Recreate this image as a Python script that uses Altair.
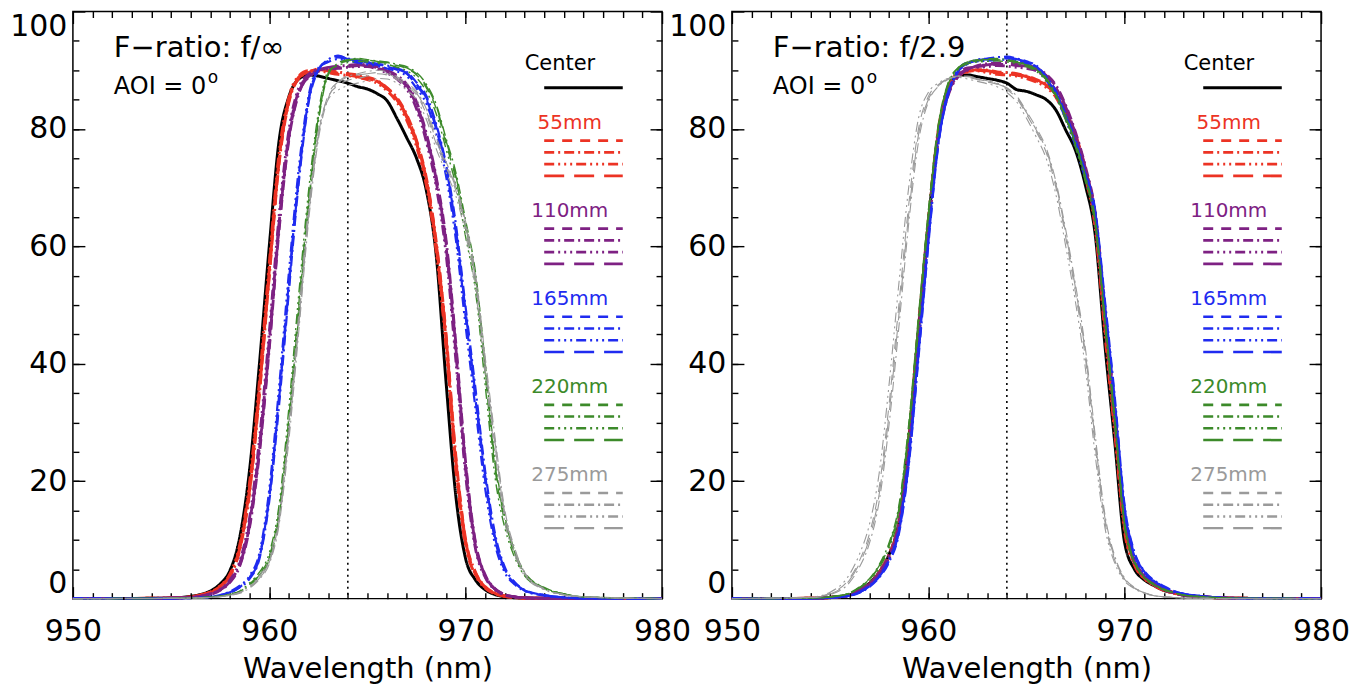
import altair as alt
import pandas as pd

# ---------------- data ----------------
WAVE = [950, 954, 955, 956, 956.5, 957, 957.5, 958, 958.5, 959, 959.5, 960, 960.5,
        961, 961.5, 962, 962.5, 963, 963.5, 964, 964.5, 965, 965.5, 966, 966.5, 967,
        967.5, 968, 968.5, 969, 969.5, 970, 970.5, 971, 971.5, 972, 972.5, 973, 974,
        975, 976, 980]

GROUPS = ["Center", "55mm", "110mm", "165mm", "220mm", "275mm"]
STYLES = ["dash", "dashdot", "dash3dot", "longdash"]

# ---- left panel: F-ratio f/inf ----
L_CENTER = [0, 0.05, 0.1, 0.4, 0.7, 1.3, 2.5, 4.8, 10.5, 22, 40, 60, 78, 85.5, 88.5, 89.2, 89.0, 88.6, 88.2, 87.8, 87.2, 86.8, 86.0, 84.8, 81.8, 78.5, 75.0, 69.5, 58.5, 37.0, 17.5, 6.8, 3.2, 1.5, 0.7, 0.3, 0.15, 0.1, 0.05, 0, 0, 0]
L_55 = [
    [0, 0.05, 0.1, 0.3, 0.6, 1.1, 2.1, 4.0, 8.8, 19, 36, 56, 75, 85, 88.8, 89.8, 90.0, 89.8, 89.5, 89.3, 89.0, 88.6, 88.0, 86.8, 85.0, 82.0, 77.5, 71.0, 60.0, 44.0, 23.0, 9.5, 4.2, 1.9, 0.9, 0.4, 0.2, 0.1, 0.05, 0, 0, 0],
    [0, 0.05, 0.1, 0.3, 0.6, 1.0, 2.0, 3.8, 8.4, 18.2, 35, 55, 74.2, 84.6, 88.6, 89.6, 90.2, 90.0, 89.7, 89.4, 89.2, 88.8, 88.2, 87.0, 85.3, 82.4, 78.0, 71.6, 60.8, 45.0, 24.2, 10.0, 4.5, 2.0, 0.9, 0.4, 0.2, 0.1, 0.05, 0, 0, 0],
    [0, 0.05, 0.1, 0.3, 0.6, 1.1, 2.2, 4.2, 9.2, 19.8, 37, 57, 75.8, 85.4, 89.0, 89.9, 89.9, 89.6, 89.3, 89.1, 88.8, 88.4, 87.8, 86.5, 84.6, 81.5, 77.0, 70.4, 59.2, 43.0, 22.0, 9.0, 4.0, 1.8, 0.8, 0.4, 0.2, 0.1, 0.05, 0, 0, 0],
    [0, 0.05, 0.1, 0.3, 0.6, 1.1, 2.1, 3.9, 8.6, 18.6, 35.5, 55.5, 74.6, 84.8, 88.7, 89.7, 90.1, 89.9, 89.6, 89.2, 88.9, 88.5, 88.1, 86.9, 85.1, 82.2, 77.8, 71.3, 60.4, 44.5, 23.6, 9.8, 4.3, 1.9, 0.9, 0.4, 0.2, 0.1, 0.05, 0, 0, 0],
]
L_110 = [
    [0, 0.05, 0.1, 0.2, 0.4, 0.8, 1.5, 3.0, 6.0, 13.0, 26.0, 44.0, 64.0, 79.0, 86.5, 89.0, 90.0, 90.3, 90.5, 90.6, 90.8, 90.8, 90.4, 89.8, 88.8, 87.2, 84.0, 78.5, 71.0, 60.0, 42.0, 22.0, 9.0, 3.8, 1.6, 0.7, 0.3, 0.15, 0.05, 0, 0, 0],
    [0, 0.05, 0.1, 0.2, 0.4, 0.7, 1.4, 2.8, 5.6, 12.2, 24.8, 42.6, 62.8, 78.2, 86.0, 88.8, 89.8, 90.4, 90.7, 90.8, 91.0, 90.9, 90.6, 90.0, 89.1, 87.6, 84.6, 79.2, 71.8, 61.2, 43.5, 23.2, 9.6, 4.0, 1.7, 0.7, 0.3, 0.15, 0.05, 0, 0, 0],
    [0, 0.05, 0.1, 0.2, 0.4, 0.8, 1.6, 3.2, 6.4, 13.8, 27.2, 45.4, 65.2, 79.8, 87.0, 89.3, 90.1, 90.2, 90.3, 90.5, 90.6, 90.6, 90.2, 89.5, 88.5, 86.8, 83.4, 77.8, 70.2, 58.8, 40.6, 21.0, 8.5, 3.6, 1.5, 0.6, 0.3, 0.15, 0.05, 0, 0, 0],
    [0, 0.05, 0.1, 0.2, 0.4, 0.8, 1.5, 2.9, 5.8, 12.6, 25.4, 43.2, 63.4, 78.6, 86.2, 88.9, 90.0, 90.5, 90.6, 90.7, 90.9, 90.7, 90.3, 89.9, 88.9, 87.4, 84.2, 78.9, 71.4, 60.6, 42.8, 22.6, 9.3, 3.9, 1.6, 0.7, 0.3, 0.15, 0.05, 0, 0, 0],
]
L_165 = [
    [0, 0.03, 0.05, 0.1, 0.15, 0.3, 0.6, 1.1, 2.0, 3.6, 7.2, 17.5, 34.6, 54.0, 72.0, 85.0, 90.2, 91.6, 92.2, 91.8, 91.5, 91.2, 90.9, 90.6, 90.1, 89.4, 87.4, 85.0, 80.0, 73.0, 62.5, 48.0, 34.0, 20.0, 10.0, 4.8, 2.6, 1.4, 0.6, 0.2, 0.05, 0],
    [0, 0.03, 0.05, 0.1, 0.15, 0.3, 0.5, 1.0, 1.9, 3.4, 6.8, 16.6, 33.0, 52.4, 70.8, 84.4, 90.0, 91.8, 92.4, 92.0, 91.7, 91.4, 91.1, 90.8, 90.3, 89.7, 87.9, 85.6, 80.8, 74.0, 63.8, 49.6, 35.8, 21.6, 11.0, 5.3, 2.8, 1.5, 0.6, 0.2, 0.05, 0],
    [0, 0.03, 0.05, 0.1, 0.2, 0.3, 0.6, 1.2, 2.2, 3.9, 7.8, 18.6, 36.0, 55.6, 73.2, 85.6, 90.4, 91.4, 91.9, 91.6, 91.3, 91.0, 90.7, 90.3, 89.8, 89.0, 86.9, 84.3, 79.2, 72.0, 61.2, 46.4, 32.4, 18.6, 9.2, 4.4, 2.4, 1.3, 0.5, 0.2, 0.05, 0],
    [0, 0.03, 0.05, 0.1, 0.15, 0.3, 0.6, 1.1, 2.0, 3.5, 7.0, 17.2, 34.0, 53.2, 71.5, 84.8, 90.1, 91.7, 92.5, 91.9, 91.6, 91.3, 91.0, 90.7, 90.2, 89.5, 87.6, 85.3, 80.4, 73.6, 63.0, 48.8, 34.8, 20.8, 10.4, 5.0, 2.7, 1.4, 0.6, 0.2, 0.05, 0],
]
L_220 = [
    [0, 0.03, 0.05, 0.1, 0.15, 0.25, 0.4, 0.7, 1.2, 2.5, 4.2, 7.2, 15.0, 31.0, 50.0, 68.0, 82.0, 89.5, 91.0, 91.6, 91.8, 91.6, 91.4, 91.2, 90.8, 90.3, 89.2, 87.0, 83.5, 77.5, 71.5, 63.0, 54.0, 38.0, 22.0, 13.0, 7.5, 4.2, 1.8, 0.8, 0.3, 0],
    [0, 0.03, 0.05, 0.1, 0.15, 0.25, 0.4, 0.7, 1.1, 2.3, 3.9, 6.7, 14.0, 29.4, 48.2, 66.6, 81.2, 89.2, 91.2, 91.8, 92.0, 91.8, 91.6, 91.4, 91.0, 90.6, 89.6, 87.6, 84.2, 78.4, 72.6, 64.4, 55.6, 40.0, 23.6, 14.0, 8.1, 4.5, 1.9, 0.8, 0.3, 0],
    [0, 0.03, 0.05, 0.1, 0.15, 0.3, 0.45, 0.8, 1.3, 2.7, 4.5, 7.8, 16.0, 32.6, 51.8, 69.4, 82.8, 89.8, 90.8, 91.3, 91.5, 91.4, 91.2, 91.0, 90.5, 89.9, 88.7, 86.4, 82.6, 76.6, 70.4, 61.6, 52.4, 36.2, 20.6, 12.0, 7.0, 3.9, 1.7, 0.7, 0.3, 0],
    [0, 0.03, 0.05, 0.1, 0.15, 0.25, 0.4, 0.7, 1.2, 2.4, 4.0, 7.0, 14.6, 30.2, 49.2, 67.4, 81.6, 89.4, 91.1, 91.7, 91.9, 91.7, 91.5, 91.3, 90.9, 90.4, 89.4, 87.3, 83.9, 78.0, 72.0, 63.6, 54.8, 39.0, 22.8, 13.5, 7.8, 4.3, 1.8, 0.8, 0.3, 0],
]
L_275 = [
    [0, 0.03, 0.05, 0.1, 0.15, 0.2, 0.35, 0.6, 1.0, 2.0, 3.6, 6.4, 13.5, 28.5, 47.0, 65.5, 79.0, 85.5, 87.4, 88.3, 88.6, 89.0, 89.4, 89.2, 88.4, 87.2, 85.8, 82.5, 77.5, 73.5, 69.5, 63.0, 54.0, 39.5, 26.0, 14.0, 8.0, 4.2, 1.6, 0.7, 0.3, 0],
    [0, 0.03, 0.05, 0.1, 0.15, 0.2, 0.3, 0.55, 0.9, 1.8, 3.3, 5.9, 12.6, 27.0, 45.4, 64.2, 78.2, 85.2, 87.8, 88.9, 89.4, 89.8, 90.0, 89.7, 88.9, 87.8, 86.4, 83.4, 78.6, 74.4, 70.4, 64.2, 55.4, 41.0, 27.4, 15.0, 8.6, 4.5, 1.7, 0.7, 0.3, 0],
    [0, 0.03, 0.05, 0.1, 0.15, 0.2, 0.35, 0.65, 1.1, 2.2, 3.9, 6.9, 14.4, 30.0, 48.6, 66.8, 79.6, 85.0, 86.6, 87.4, 87.8, 88.2, 88.6, 88.5, 87.8, 86.6, 85.0, 81.6, 76.6, 72.6, 68.6, 62.0, 52.6, 38.0, 24.6, 13.0, 7.4, 3.9, 1.5, 0.6, 0.3, 0],
    [0, 0.03, 0.05, 0.1, 0.15, 0.2, 0.35, 0.6, 1.0, 1.9, 3.5, 6.2, 13.0, 28.0, 46.4, 65.0, 78.8, 85.8, 88.0, 89.0, 89.2, 89.4, 89.6, 89.4, 88.6, 87.5, 86.1, 83.0, 78.0, 74.0, 70.0, 63.6, 54.6, 40.2, 26.6, 14.4, 8.2, 4.3, 1.6, 0.7, 0.3, 0],
]

# ---- right panel: F-ratio f/2.9 ----
R_CENTER = [0, 0.05, 0.2, 0.6, 1.5, 2.6, 4.5, 7.5, 13.0, 27.0, 46.0, 64.0, 79.0, 86.5, 89.0, 89.2, 88.9, 88.6, 88.3, 87.8, 86.7, 86.4, 85.8, 85.0, 83.2, 79.8, 76.3, 70.4, 62.0, 43.0, 26.5, 9.5, 5.0, 3.2, 2.2, 1.4, 1.0, 0.6, 0.3, 0.1, 0.05, 0]
R_55 = [
    [0, 0.05, 0.2, 0.6, 1.4, 2.5, 4.3, 7.2, 12.5, 26.0, 45.0, 63.5, 79.0, 86.8, 89.2, 89.8, 90.0, 89.8, 89.5, 89.4, 89.2, 88.8, 88.2, 87.4, 85.8, 82.5, 78.5, 72.5, 64.0, 46.0, 29.0, 12.0, 6.0, 3.5, 2.3, 1.5, 1.0, 0.6, 0.3, 0.1, 0.05, 0],
    [0, 0.05, 0.2, 0.6, 1.3, 2.4, 4.1, 6.9, 12.0, 25.0, 44.0, 62.8, 78.4, 86.5, 89.0, 89.7, 90.1, 90.0, 89.7, 89.6, 89.4, 89.0, 88.4, 87.6, 86.1, 82.9, 79.0, 73.1, 64.8, 47.2, 30.2, 12.8, 6.3, 3.6, 2.4, 1.5, 1.0, 0.6, 0.3, 0.1, 0.05, 0],
    [0, 0.05, 0.2, 0.7, 1.5, 2.7, 4.6, 7.6, 13.2, 27.2, 46.2, 64.4, 79.6, 87.0, 89.4, 89.9, 89.9, 89.6, 89.3, 89.2, 89.0, 88.6, 88.0, 87.1, 85.4, 82.0, 78.0, 71.8, 63.2, 45.0, 28.0, 11.4, 5.7, 3.4, 2.2, 1.4, 0.9, 0.6, 0.3, 0.1, 0.05, 0],
    [0, 0.05, 0.2, 0.6, 1.4, 2.5, 4.4, 7.3, 12.7, 26.4, 45.4, 63.8, 79.2, 86.9, 89.3, 89.8, 90.0, 89.9, 89.6, 89.5, 89.3, 88.9, 88.3, 87.5, 85.9, 82.6, 78.7, 72.8, 64.4, 46.6, 29.5, 12.4, 6.1, 3.5, 2.3, 1.5, 1.0, 0.6, 0.3, 0.1, 0.05, 0],
]
R_110 = [
    [0, 0.05, 0.2, 0.6, 1.4, 2.5, 4.3, 7.1, 12.4, 25.6, 44.6, 63.2, 78.6, 86.0, 89.0, 90.2, 90.6, 90.8, 91.0, 91.0, 90.8, 90.6, 90.2, 89.0, 87.0, 83.5, 78.8, 73.0, 65.0, 48.0, 31.0, 13.5, 6.5, 3.8, 2.5, 1.6, 1.0, 0.6, 0.3, 0.1, 0.05, 0],
    [0, 0.05, 0.2, 0.6, 1.3, 2.4, 4.1, 6.8, 11.9, 24.8, 43.6, 62.4, 78.0, 85.6, 88.8, 90.0, 90.8, 91.1, 91.2, 91.3, 91.0, 90.8, 90.4, 89.3, 87.4, 84.0, 79.4, 73.6, 65.8, 49.2, 32.2, 14.2, 6.8, 3.9, 2.6, 1.6, 1.0, 0.6, 0.3, 0.1, 0.05, 0],
    [0, 0.05, 0.2, 0.7, 1.5, 2.6, 4.5, 7.4, 12.9, 26.4, 45.6, 64.0, 79.2, 86.4, 89.2, 90.4, 90.5, 90.6, 90.8, 90.7, 90.5, 90.3, 89.9, 88.6, 86.5, 83.0, 78.2, 72.4, 64.2, 47.0, 30.0, 13.0, 6.2, 3.7, 2.4, 1.5, 1.0, 0.6, 0.3, 0.1, 0.05, 0],
    [0, 0.05, 0.2, 0.6, 1.4, 2.5, 4.2, 7.0, 12.2, 25.2, 44.2, 62.8, 78.3, 85.8, 88.9, 90.1, 90.7, 90.9, 91.1, 91.1, 90.9, 90.7, 90.3, 89.1, 87.2, 83.7, 79.0, 73.3, 65.4, 48.6, 31.5, 13.8, 6.6, 3.8, 2.5, 1.6, 1.0, 0.6, 0.3, 0.1, 0.05, 0],
]
R_165 = [
    [0, 0.03, 0.15, 0.5, 1.1, 2.1, 3.8, 6.5, 11.5, 23.5, 42.0, 61.0, 77.5, 86.0, 89.8, 91.2, 91.6, 91.8, 91.9, 92.0, 91.8, 91.3, 90.5, 88.6, 86.0, 82.0, 77.5, 72.0, 65.5, 49.5, 33.0, 15.0, 7.5, 4.5, 3.0, 2.0, 1.3, 0.8, 0.4, 0.15, 0.05, 0],
    [0, 0.03, 0.15, 0.5, 1.0, 2.0, 3.6, 6.2, 11.0, 22.6, 41.0, 60.2, 77.0, 85.7, 89.6, 91.1, 91.8, 92.0, 92.2, 92.3, 92.0, 91.5, 90.8, 88.9, 86.4, 82.5, 78.0, 72.6, 66.2, 50.6, 34.2, 15.8, 7.9, 4.7, 3.1, 2.1, 1.3, 0.8, 0.4, 0.15, 0.05, 0],
    [0, 0.03, 0.15, 0.5, 1.1, 2.2, 3.9, 6.7, 11.9, 24.2, 42.8, 61.8, 78.0, 86.3, 90.0, 91.3, 91.5, 91.6, 91.7, 91.8, 91.6, 91.1, 90.3, 88.3, 85.6, 81.6, 77.0, 71.4, 64.8, 48.4, 32.0, 14.4, 7.2, 4.3, 2.9, 1.9, 1.2, 0.8, 0.4, 0.15, 0.05, 0],
    [0, 0.03, 0.15, 0.5, 1.1, 2.1, 3.7, 6.4, 11.3, 23.0, 41.6, 60.6, 77.2, 85.8, 89.7, 91.2, 91.7, 91.9, 92.1, 92.1, 91.9, 91.4, 90.6, 88.8, 86.2, 82.2, 77.8, 72.3, 65.8, 50.0, 33.6, 15.4, 7.7, 4.6, 3.0, 2.0, 1.3, 0.8, 0.4, 0.15, 0.05, 0],
]
R_220 = [
    [0, 0.08, 0.3, 0.9, 1.9, 3.2, 5.5, 9.0, 15.0, 28.5, 47.0, 65.0, 80.0, 87.5, 90.2, 91.3, 91.6, 91.7, 91.8, 91.6, 91.3, 90.8, 90.0, 88.4, 85.6, 81.8, 77.2, 71.5, 64.0, 47.0, 30.0, 12.5, 6.2, 3.6, 2.4, 1.5, 1.0, 0.6, 0.3, 0.1, 0.05, 0],
    [0, 0.08, 0.3, 1.0, 2.0, 3.4, 5.8, 9.5, 15.8, 29.6, 48.2, 66.0, 80.6, 87.8, 90.4, 91.4, 91.8, 91.9, 92.0, 91.8, 91.5, 91.0, 90.2, 88.7, 85.9, 82.2, 77.6, 72.0, 64.6, 47.8, 30.8, 13.0, 6.4, 3.7, 2.5, 1.6, 1.0, 0.6, 0.3, 0.1, 0.05, 0],
    [0, 0.08, 0.3, 0.9, 1.8, 3.0, 5.2, 8.6, 14.4, 27.6, 46.0, 64.2, 79.4, 87.2, 90.0, 91.1, 91.4, 91.5, 91.6, 91.4, 91.1, 90.6, 89.8, 88.1, 85.3, 81.4, 76.8, 71.0, 63.4, 46.2, 29.2, 12.0, 6.0, 3.5, 2.3, 1.5, 1.0, 0.6, 0.3, 0.1, 0.05, 0],
    [0, 0.08, 0.3, 0.9, 1.9, 3.3, 5.6, 9.2, 15.3, 29.0, 47.5, 65.5, 80.3, 87.6, 90.3, 91.4, 91.7, 91.8, 91.9, 91.7, 91.4, 90.9, 90.1, 88.5, 85.7, 82.0, 77.4, 71.7, 64.3, 47.4, 30.4, 12.7, 6.3, 3.6, 2.4, 1.5, 1.0, 0.6, 0.3, 0.1, 0.05, 0],
]
R_275 = [
    [0, 0.2, 0.9, 3.5, 6.5, 11.0, 19.0, 33.0, 50.0, 67.0, 80.0, 85.5, 87.5, 88.6, 89.0, 88.8, 88.4, 88.0, 87.6, 86.7, 85.2, 82.5, 79.5, 76.0, 70.0, 61.5, 52.0, 41.0, 26.0, 13.0, 6.5, 3.2, 1.8, 1.0, 0.5, 0.3, 0.2, 0.1, 0.05, 0, 0, 0],
    [0, 0.15, 0.7, 2.8, 5.4, 9.4, 16.6, 29.6, 46.2, 63.8, 77.8, 84.6, 87.2, 88.4, 89.0, 89.0, 88.6, 88.2, 87.8, 87.0, 85.6, 83.0, 80.2, 76.8, 71.0, 62.8, 53.4, 42.6, 27.8, 14.2, 7.2, 3.5, 1.9, 1.0, 0.5, 0.3, 0.2, 0.1, 0.05, 0, 0, 0],
    [0, 0.25, 1.1, 4.2, 7.6, 12.6, 21.4, 36.4, 53.6, 70.0, 81.8, 86.2, 87.8, 88.6, 88.8, 88.5, 88.1, 87.7, 87.2, 86.2, 84.6, 81.8, 78.6, 75.0, 68.8, 60.0, 50.4, 39.2, 24.4, 12.0, 6.0, 3.0, 1.7, 0.9, 0.5, 0.3, 0.2, 0.1, 0.05, 0, 0, 0],
    [0, 0.2, 0.8, 3.2, 6.0, 10.2, 17.8, 31.4, 48.2, 65.4, 79.0, 85.0, 87.3, 88.5, 88.9, 88.9, 88.5, 88.1, 87.7, 86.9, 85.4, 82.8, 79.8, 76.4, 70.6, 62.2, 52.8, 41.8, 27.0, 13.6, 6.8, 3.3, 1.8, 1.0, 0.5, 0.3, 0.2, 0.1, 0.05, 0, 0, 0],
]

MARK_WL = 964  # dotted reference wavelength
MAJOR_X = [950, 960, 970, 980]
MINOR_X = list(range(951, 980))
MAJOR_Y = [0, 20, 40, 60, 80, 100]
MINOR_Y = list(range(5, 100, 5))

# ---------------- styling / layout ----------------
FONT = "DejaVu Sans"
W, H = 590, 588
COLORS = ["#000000", "#ec3324", "#7e2183", "#1f2bf0", "#3c8a2a", "#9a9a9a"]
CURVE_WIDTHS = [3.0, 3.0, 2.8, 2.2, 1.4, 1.1]
LEGEND_WIDTHS = [3.0, 2.4, 2.2, 2.0, 1.6, 1.5]
DASH_DOMAIN = ["solid"] + STYLES
DASH_RANGE = [[1, 0], [10, 8], [10, 4, 2, 4], [10, 4, 2, 4, 2, 4, 2, 4], [20, 10]]
LEGEND_X = [974, 978]
LEGEND_CENTER_LABEL_X = 974.8
LEGEND_LABEL_X = 975.3
LEGEND_LABEL_Y = [90, 80, 65, 50, 35, 20]
LEGEND_LINE_Y = [[87], [78, 76, 74, 72], [63, 61, 59, 57], [48, 46, 44, 42], [33, 31, 29, 27], [18, 16, 14, 12]]

XS = alt.Scale(domain=[950, 980], nice=False, zero=False)
YS = alt.Scale(domain=[0, 100], nice=False, zero=False)
DASH_SCALE = alt.Scale(domain=DASH_DOMAIN, range=DASH_RANGE)
COLOR_SCALE = alt.Scale(domain=GROUPS, range=COLORS)


def build_df(center, groups):
    rows = []
    assert len(center) == len(WAVE)
    for w, t in zip(WAVE, center):
        rows.append({"group": "Center", "style": "solid", "wl": w, "T": t})
    for g, curves in zip(GROUPS[1:], groups):
        for s, vals in zip(STYLES, curves):
            assert len(vals) == len(WAVE), (g, s, len(vals))
            for w, t in zip(WAVE, vals):
                rows.append({"group": g, "style": s, "wl": w, "T": t})
    return pd.DataFrame(rows)


def tick_axis(orient, offset, values, size):
    return alt.Axis(orient=orient, offset=offset, values=values, labels=False,
                    domain=False, grid=False, ticks=True, tickSize=size,
                    tickWidth=1.4, tickColor="black", title=None)


def panel(df, heading):
    pt = alt.Data(values=[{"wl": 950, "T": 0}])

    def carrier(xa, ya):
        return alt.Chart(pt).mark_point(opacity=0).encode(
            x=alt.X("wl:Q", scale=XS, axis=xa),
            y=alt.Y("T:Q", scale=YS, axis=ya))

    x_lab = alt.Axis(orient="bottom", values=MAJOR_X, ticks=False, tickSize=0, domain=False,
                     grid=False, labelFontSize=30, labelPadding=18, labelFlush=False,
                     labelOverlap=False, format="d", title="Wavelength (nm)",
                     titleFontSize=29, titleFontWeight="normal", titlePadding=8)
    y_lab = alt.Axis(orient="left", values=MAJOR_Y, ticks=False, tickSize=0, domain=False,
                     grid=False, labelFontSize=30, labelPadding=6, labelFlush=True,
                     labelOverlap=False, format="d", title=None)

    layers = [
        carrier(x_lab, y_lab),
        carrier(tick_axis("top", -H, MAJOR_X, 12), tick_axis("right", -W, MAJOR_Y, 12)),
        carrier(tick_axis("top", -H, MINOR_X, 6), tick_axis("right", -W, MINOR_Y, 6)),
        carrier(tick_axis("bottom", -H, MAJOR_X, 12), tick_axis("left", -W, MAJOR_Y, 12)),
        carrier(tick_axis("bottom", -H, MINOR_X, 6), tick_axis("left", -W, MINOR_Y, 6)),
    ]

    layers.append(
        alt.Chart(alt.Data(values=[{"wl": MARK_WL}])).mark_rule(
            color="black", strokeDash=[2, 4], strokeWidth=1.6).encode(
            x=alt.X("wl:Q", scale=XS, axis=None)))

    for gi, g in enumerate(GROUPS):
        sub = df[df.group == g]
        layers.append(
            alt.Chart(sub).mark_line(color=COLORS[gi], strokeWidth=CURVE_WIDTHS[gi],
                                     interpolate="monotone").encode(
                x=alt.X("wl:Q", scale=XS, axis=None),
                y=alt.Y("T:Q", scale=YS, axis=None),
                detail="style:N",
                strokeDash=alt.StrokeDash("style:N", scale=DASH_SCALE, legend=None)))

    leg_rows = []
    for g, ys in zip(GROUPS, LEGEND_LINE_Y):
        styles = ["solid"] if g == "Center" else STYLES
        for s, yv in zip(styles, ys):
            leg_rows.append({"group": g, "style": s, "y": yv})
    layers.append(
        alt.Chart(alt.Data(values=leg_rows)).mark_rule().encode(
            x=alt.XDatum(LEGEND_X[0], axis=None),
            x2=alt.X2Datum(LEGEND_X[1]),
            y=alt.Y("y:Q", scale=YS, axis=None),
            color=alt.Color("group:N", scale=COLOR_SCALE, legend=None),
            strokeDash=alt.StrokeDash("style:N", scale=DASH_SCALE, legend=None),
            strokeWidth=alt.StrokeWidth("group:N", scale=alt.Scale(domain=GROUPS, range=LEGEND_WIDTHS), legend=None)))

    layers.append(
        alt.Chart(alt.Data(values=[{"label": GROUPS[0], "group": GROUPS[0], "y": LEGEND_LABEL_Y[0]}])).mark_text(
            fontSize=21, baseline="alphabetic", align="center").encode(
            x=alt.XDatum(LEGEND_CENTER_LABEL_X, axis=None),
            y=alt.Y("y:Q", scale=YS, axis=None),
            text="label:N",
            color=alt.Color("group:N", scale=COLOR_SCALE, legend=None)))
    layers.append(
        alt.Chart(alt.Data(values=[{"label": g, "group": g, "y": yv}
                                   for g, yv in zip(GROUPS[1:], LEGEND_LABEL_Y[1:])])).mark_text(
            fontSize=20, baseline="alphabetic", align="center").encode(
            x=alt.XDatum(LEGEND_LABEL_X, axis=None),
            y=alt.Y("y:Q", scale=YS, axis=None),
            text="label:N",
            color=alt.Color("group:N", scale=COLOR_SCALE, legend=None)))

    layers.append(
        alt.Chart(alt.Data(values=[{"t": heading}])).mark_text(
            align="left", baseline="alphabetic", fontSize=29, color="black").encode(
            x=alt.value(41), y=alt.value(46), text="t:N"))
    layers.append(
        alt.Chart(alt.Data(values=[{"t": "AOI = 0"}])).mark_text(
            align="left", baseline="alphabetic", fontSize=24, color="black").encode(
            x=alt.value(41), y=alt.value(83), text="t:N"))
    layers.append(
        alt.Chart(alt.Data(values=[{"t": "o"}])).mark_text(
            align="left", baseline="alphabetic", fontSize=17, color="black").encode(
            x=alt.value(135), y=alt.value(72), text="t:N"))

    return alt.layer(*layers).properties(width=W, height=H).resolve_axis(
        x="independent", y="independent")


left_df = build_df(L_CENTER, [L_55, L_110, L_165, L_220, L_275])
right_df = build_df(R_CENTER, [R_55, R_110, R_165, R_220, R_275])

chart = alt.hconcat(
    panel(left_df, "F\u2212ratio: f/\u221e"),
    panel(right_df, "F\u2212ratio: f/2.9"),
    spacing=70, bounds="flush",
).properties(
    padding={"left": 0, "top": 1, "right": 5, "bottom": 0},
    background="white",
).configure_view(
    stroke="black", strokeWidth=1.5
).configure_axis(
    labelFont=FONT, titleFont=FONT, labelColor="black", titleColor="black"
).configure_text(font=FONT)

chart.save("out.html", embed_options={"renderer": "svg", "actions": False})
